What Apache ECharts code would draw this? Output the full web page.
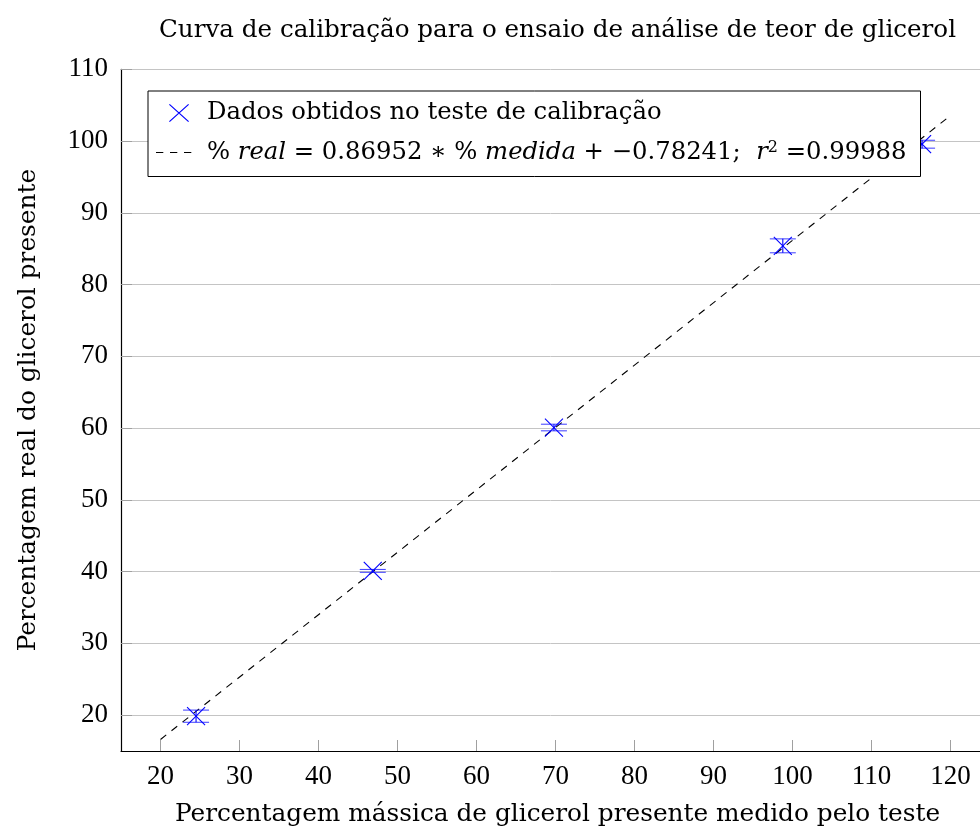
<!DOCTYPE html>
<html>
<head>
<meta charset="utf-8">
<script src="https://cdn.jsdelivr.net/npm/echarts@6/dist/echarts.min.js"></script>
<style>
  html, body { margin: 0; padding: 0; background: #fff; }
  #chart { width: 980px; height: 832px; }
</style>
</head>
<body>
<div id="chart"></div>
<script>
// Calibration data: measured glycerol % (x), real glycerol % (y), y error half-width
const medida = [24.5, 46.87, 69.8, 98.77, 116.4];
const real = [19.85, 40.1, 60.08, 85.4, 99.56];
const erro = [0.85, 0.2, 0.46, 0.97, 0.55];

// Linear fit endpoints (x = 20 and x = 120)
const ajusteX = [20, 120];
const ajusteY = [16.608, 103.56];

const xTicks = [20, 30, 40, 50, 60, 70, 80, 90, 100, 110, 120];
const yTicks = [20, 30, 40, 50, 60, 70, 80, 90, 100, 110];

const nomePontos = 'Dados obtidos no teste de calibração';
const nomeAjuste = 'ajuste';

const TEXT_FONT = '"DejaVu Serif", "Liberation Serif", serif';
const NUM_FONT = '"Liberation Serif", "DejaVu Serif", serif';
const BLUE = '#0000ff';

const pontos = medida.map((x, i) => [x, real[i], erro[i]]);
const ajuste = ajusteX.map((x, i) => [x, ajusteY[i]]);

// Legend icons in a 46x20 box (tiny corner dots fix the bounding box)
const corners = 'M0,0h0.01v0.01h-0.01z M45.99,19.99h0.01v0.01h-0.01z ';
const xIcon = 'path://' + corners +
  'M13,1.8L13.8,1L33,18.2L32.2,19Z M32.2,1L33,1.8L13.8,19L13,18.2Z';
const dashIcon = 'path://' + corners +
  'M0,9.5h7.3v1h-7.3z M14,9.5h7.3v1h-7.3z M28,9.5h7.3v1h-7.3z';

const chart = echarts.init(document.getElementById('chart'), null, { renderer: 'canvas' });

chart.setOption({
  animation: false,
  backgroundColor: '#ffffff',
  title: {
    text: 'Curva de calibração para o ensaio de análise de teor de glicerol',
    left: 154,
    top: 13,
    textStyle: { fontFamily: TEXT_FONT, fontSize: 24.6, fontWeight: 'normal', color: '#000' }
  },
  grid: { left: 121, top: 69.3, right: 0, bottom: 78, containLabel: false },
  legend: {
    orient: 'vertical',
    left: 148,
    top: 91,
    padding: [10, 14, 12, 8],
    itemGap: 15,
    itemWidth: 46,
    itemHeight: 20,
    symbolKeepAspect: true,
    backgroundColor: '#ffffff',
    borderColor: '#000000',
    borderWidth: 1,
    borderRadius: 0,
    data: [
      { name: nomePontos, icon: xIcon, itemStyle: { color: BLUE } },
      { name: nomeAjuste, icon: dashIcon, itemStyle: { color: '#000' } }
    ],
    formatter: function (name) {
      if (name === nomeAjuste) {
        return '{n|% }{i|real}{n| = 0.86952 ∗ % }{i|medida}{n| + −0.78241;  }{i|r}{s|2}{n| =0.99988}';
      }
      return '{n|' + name + '}';
    },
    textStyle: {
      fontFamily: TEXT_FONT, fontSize: 24.3, color: '#000',
      rich: {
        n: { fontFamily: TEXT_FONT, fontSize: 24.3, color: '#000' },
        i: { fontFamily: TEXT_FONT, fontSize: 24.3, fontStyle: 'italic', color: '#000' },
        s: { fontFamily: TEXT_FONT, fontSize: 16, color: '#000', verticalAlign: 'top', padding: [0, 0, 9, 0] }
      }
    }
  },
  xAxis: {
    type: 'value',
    min: 15,
    max: 123.73,
    name: 'Percentagem mássica de glicerol presente medido pelo teste',
    nameLocation: 'middle',
    nameGap: 51,
    nameTextStyle: { fontFamily: TEXT_FONT, fontSize: 24.8, color: '#000', padding: [0, 0, 0, 14] },
    axisLine: { show: true, onZero: false, lineStyle: { color: '#000', width: 1.2 } },
    axisTick: { show: true, inside: true, length: 11, customValues: xTicks, lineStyle: { color: '#a0a0a0', width: 1 } },
    axisLabel: { customValues: xTicks, margin: 12, fontFamily: NUM_FONT, fontSize: 27, color: '#000' },
    splitLine: { show: false }
  },
  yAxis: {
    type: 'value',
    min: 15,
    max: 110,
    name: 'Percentagem real do glicerol presente',
    nameLocation: 'middle',
    nameGap: 80,
    nameRotate: 90,
    nameTextStyle: { fontFamily: TEXT_FONT, fontSize: 24.8, color: '#000' },
    axisLine: { show: true, onZero: false, lineStyle: { color: '#000', width: 1.2 } },
    axisTick: { show: true, inside: true, length: 11, customValues: yTicks, lineStyle: { color: '#a0a0a0', width: 1 } },
    axisLabel: { customValues: yTicks, margin: 13, fontFamily: NUM_FONT, fontSize: 27, color: '#000' },
    splitLine: { show: true, lineStyle: { color: '#c4c4c4', width: 1 } }
  },
  series: [
    {
      name: nomeAjuste,
      type: 'line',
      data: ajuste,
      symbol: 'none',
      z: 2,
      lineStyle: { color: '#000', width: 1.1, type: [7.3, 6.7] },
      itemStyle: { color: '#000' }
    },
    {
      name: nomePontos,
      type: 'custom',
      data: pontos,
      z: 3,
      itemStyle: { color: BLUE },
      renderItem: function (params, api) {
        const x = api.value(0), y = api.value(1), e = api.value(2);
        const c = api.coord([x, y]);
        const top = api.coord([x, y + e]);
        const bot = api.coord([x, y - e]);
        const cap = 13, m = 9;
        const line = (x1, y1, x2, y2, op) => ({
          type: 'line',
          shape: { x1, y1, x2, y2 },
          style: { stroke: BLUE, lineWidth: 1.1, opacity: op }
        });
        return {
          type: 'group',
          children: [
            line(c[0], top[1], c[0], bot[1], 1),
            line(c[0] - cap, top[1], c[0] + cap, top[1], 0.7),
            line(c[0] - cap, bot[1], c[0] + cap, bot[1], 0.7),
            line(c[0] - m, c[1] - m, c[0] + m, c[1] + m, 1),
            line(c[0] - m, c[1] + m, c[0] + m, c[1] - m, 1)
          ]
        };
      }
    }
  ]
});
</script>
</body>
</html>
